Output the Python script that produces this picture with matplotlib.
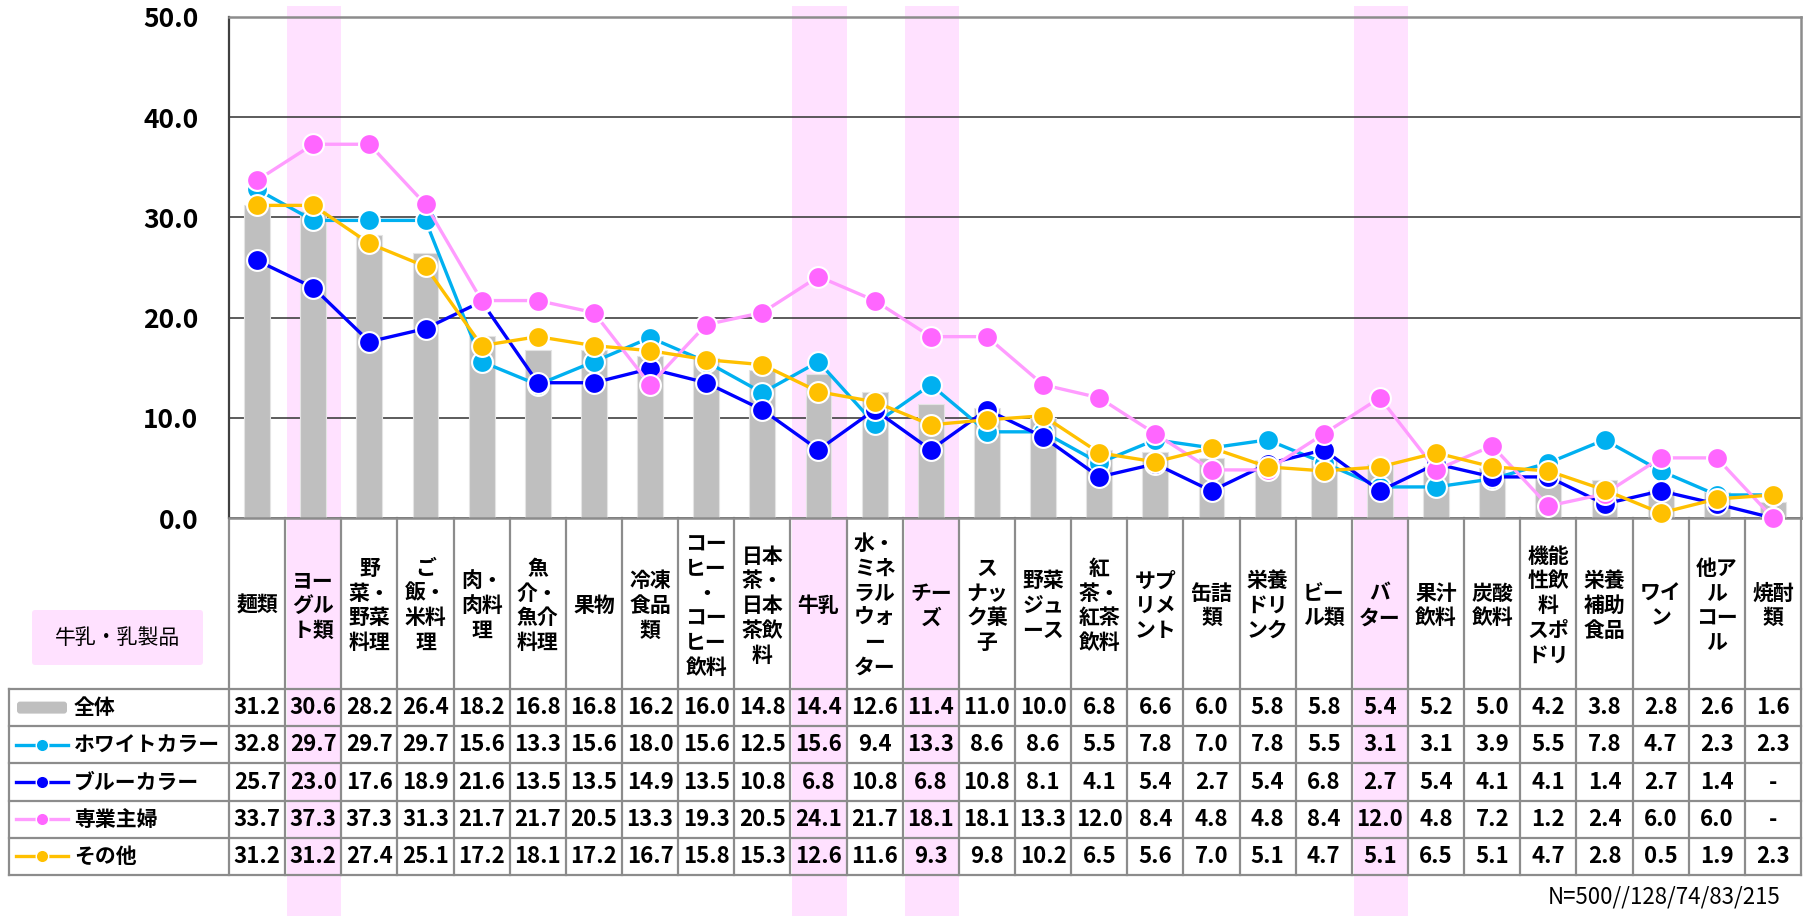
import numpy as np
import matplotlib
matplotlib.use('Agg')
import matplotlib.pyplot as plt
from matplotlib.patches import Rectangle, FancyBboxPatch

plt.rcParams['font.family'] = ['Noto Sans CJK JP', 'DejaVu Sans']

# ---------------------------DATA------------------------------------#
categories = ['麺類', 'ヨー\nグル\nト類', '野\n菜・\n野菜\n料理', 'ご\n飯・\n米料\n理', '肉・\n肉料\n理',
              '魚\n介・\n魚介\n料理', '果物', '冷凍\n食品\n類', 'コー\nヒー\n・\nコー\nヒー\n飲料',
              '日本\n茶・\n日本\n茶飲\n料', '牛乳', '水・\nミネ\nラル\nウォ\nー\nター', 'チー\nズ',
              'ス\nナッ\nク菓\n子', '野菜\nジュ\nース', '紅\n茶・\n紅茶\n飲料', 'サプ\nリメ\nント', '缶詰\n類',
              '栄養\nドリ\nンク', 'ビー\nル類', 'バ\nター', '果汁\n飲料', '炭酸\n飲料',
              '機能\n性飲\n料\nスポ\nドリ', '栄養\n補助\n食品', 'ワイ\nン', '他ア\nル\nコー\nル', '焼酎\n類']

series_names = ['全体', 'ホワイトカラー', 'ブルーカラー', '専業主婦', 'その他']

total = [31.2, 30.6, 28.2, 26.4, 18.2, 16.8, 16.8, 16.2, 16.0, 14.8, 14.4, 12.6, 11.4, 11.0,
         10.0, 6.8, 6.6, 6.0, 5.8, 5.8, 5.4, 5.2, 5.0, 4.2, 3.8, 2.8, 2.6, 1.6]
white = [32.8, 29.7, 29.7, 29.7, 15.6, 13.3, 15.6, 18.0, 15.6, 12.5, 15.6, 9.4, 13.3, 8.6,
         8.6, 5.5, 7.8, 7.0, 7.8, 5.5, 3.1, 3.1, 3.9, 5.5, 7.8, 4.7, 2.3, 2.3]
blue = [25.7, 23.0, 17.6, 18.9, 21.6, 13.5, 13.5, 14.9, 13.5, 10.8, 6.8, 10.8, 6.8, 10.8,
        8.1, 4.1, 5.4, 2.7, 5.4, 6.8, 2.7, 5.4, 4.1, 4.1, 1.4, 2.7, 1.4, None]
housewife = [33.7, 37.3, 37.3, 31.3, 21.7, 21.7, 20.5, 13.3, 19.3, 20.5, 24.1, 21.7, 18.1, 18.1,
             13.3, 12.0, 8.4, 4.8, 4.8, 8.4, 12.0, 4.8, 7.2, 1.2, 2.4, 6.0, 6.0, None]
other = [31.2, 31.2, 27.4, 25.1, 17.2, 18.1, 17.2, 16.7, 15.8, 15.3, 12.6, 11.6, 9.3, 9.8,
         10.2, 6.5, 5.6, 7.0, 5.1, 4.7, 5.1, 6.5, 5.1, 4.7, 2.8, 0.5, 1.9, 2.3]

# dairy columns get the pink highlight
dairy = ['ヨーグルト類', '牛乳', 'チーズ', 'バター']
dairy_label = '牛乳・乳製品'
note = 'N=500//128/74/83/215'

# ---------------------------LAYOUT (pixels)------------------------------------#
W, H = 1812, 921
L, R, T, B = 229, 1801, 17, 518
tab_top, tab_bot, tab_left = 689, 875, 9
n = len(categories)
cw = (R - L) / n
rh = (tab_bot - tab_top) / 5
pink = '#FFE1FF'
grid_gray = '#8C8C8C'

line_colors = ['#00B0F0', '#0000FF', '#FF9CFF', '#FFC000']
marker_colors = ['#00B0F0', '#0000FF', '#FF66FF', '#FFC000']
lines = [white, blue, housewife, other]

fig = plt.figure(figsize=(W / 100, H / 100), dpi=100)

# background axes in pixel units, used for bands and the table
bg = fig.add_axes([0, 0, 1, 1])
bg.set_xlim(0, W)
bg.set_ylim(H, 0)
bg.axis('off')

for i, c in enumerate(categories):
    if c.replace('\n', '') in dairy:
        bg.add_patch(Rectangle((L + i * cw + 2, 6), cw - 2, 910, color=pink, lw=0, zorder=0))

# ---------------------------CHART------------------------------------#
ax = fig.add_axes([L / W, 1 - B / H, (R - L) / W, (B - T) / H])
ax.patch.set_alpha(0)
x = np.arange(n)
ax.bar(x, total, width=0.46, color='#BFBFBF', edgecolor='#E4E4E4', lw=0.8, zorder=2)
for vals, lc, mc in zip(lines, line_colors, marker_colors):
    y = [0 if v is None else v for v in vals]
    ax.plot(x, y, color=lc, lw=2.4, marker='o', ms=15, mfc=mc, mec='white', mew=1.5,
            zorder=3, clip_on=False)

ax.set_xlim(-0.5, n - 0.5)
ax.set_ylim(0, 50)
ax.set_yticks(range(0, 51, 10))
ax.set_yticklabels([f'{v:.1f}' for v in range(0, 51, 10)], fontsize=19, fontweight='bold')
ax.tick_params(axis='y', length=0, pad=22)
ax.set_xticks([])
ax.grid(axis='y', color='#404040', lw=1.2)
ax.set_axisbelow(True)
ax.spines['left'].set_color('#404040')
ax.spines['left'].set_linewidth(1.6)
for s in ['top', 'right', 'bottom']:
    ax.spines[s].set_color(grid_gray)
    ax.spines[s].set_linewidth(1.8)

# ---------------------------TABLE------------------------------------#
for k in range(n + 1):
    bg.plot([L + k * cw] * 2, [B, tab_bot], color=grid_gray, lw=1.6, zorder=1)
for r in range(6):
    bg.plot([tab_left, R], [tab_top + r * rh] * 2, color=grid_gray, lw=1.6, zorder=1)
bg.plot([tab_left, tab_left], [tab_top, tab_bot], color=grid_gray, lw=1.6, zorder=1)

for i, c in enumerate(categories):
    cx = L + (i + 0.5) * cw
    bg.text(cx, (B + tab_top) / 2 + 2, c, ha='center', va='center', multialignment='center',
            fontsize=15, fontweight='bold', linespacing=1.22, zorder=2)

rows = [total] + lines
for r, vals in enumerate(rows):
    cy = tab_top + (r + 0.5) * rh
    for i, v in enumerate(vals):
        txt = '-' if v is None else f'{v:.1f}'
        bg.text(L + (i + 0.5) * cw, cy, txt, ha='center', va='center',
                fontsize=16, fontweight='bold', zorder=2)
    # legend icon + name
    if r == 0:
        bg.add_patch(FancyBboxPatch((17, cy - 6), 50, 12, boxstyle='round,pad=0,rounding_size=3',
                                    fc='#BFBFBF', ec='none', zorder=2))
    else:
        bg.plot([16, 68], [cy, cy], color=line_colors[r - 1], lw=2.4, zorder=2)
        bg.plot([42], [cy], marker='o', ms=9, mfc=marker_colors[r - 1], mec='white', mew=1, zorder=3)
    bg.text(74, cy, series_names[r], ha='left', va='center', fontsize=15, fontweight='bold', zorder=2)

# dairy label box
bg.add_patch(FancyBboxPatch((32, 610), 171, 55, boxstyle='round,pad=0,rounding_size=3',
                            fc=pink, ec='none', zorder=1))
bg.text(117, 638, dairy_label, ha='center', va='center', fontsize=15, zorder=2)

bg.text(1780, 897, note, ha='right', va='center', fontsize=16)

fig.savefig('out.png', dpi=100)
